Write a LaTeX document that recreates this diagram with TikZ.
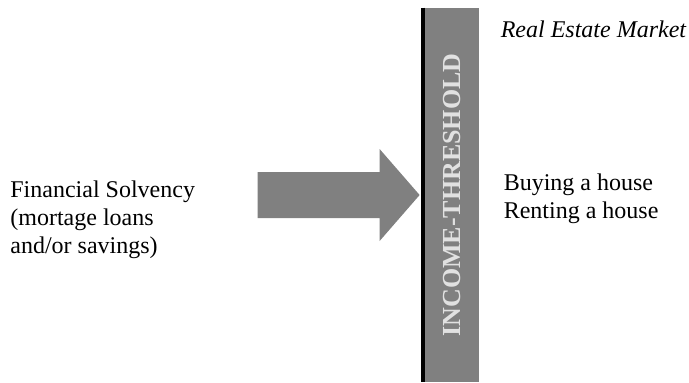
\documentclass[tikz,border=0pt,12pt]{standalone}
\usepackage{fontspec}
\setmainfont{Liberation Serif}
\usetikzlibrary{positioning}
\definecolor{bargray}{RGB}{128,128,128}
\definecolor{lblgray}{RGB}{225,225,225}
\tikzset{
  txt/.style={inner sep=0pt, align=left, anchor=north west,
              font=\fontsize{12}{14}\selectfont},
  barblk/.style={draw=none, fill=bargray, minimum width=27pt, minimum height=187pt,
                 inner sep=0pt},
  barlbl/.style={rotate=90, text=lblgray, font=\fontsize{13}{15}\selectfont\bfseries},
  pusharr/.style={fill=bargray, draw=none},
}

\begin{document}
\begin{tikzpicture}[x=0.5pt, y=-0.5pt]
  \useasboundingbox (0,0) rectangle (689,382);
  % threshold bar with its dark left edge
  \node[barblk] (bar) at (452,195) {};
  \draw[line width=2pt] ([xshift=-1pt]bar.north west) -- ([xshift=-1pt]bar.south west);
  \node[barlbl] (lim) at (bar.center) {INCOME-THRESHOLD};
  % left and right texts
  \node[txt] (solv) at (10,180) {Financial Solvency\\(mortage loans\\and/or savings)};
  \node[txt, below right=6.5pt and 10.5pt of bar.north east] (mkt) {\itshape Real Estate Market};
  \node[txt, below right=83pt and 12pt of bar.north east] (opts) {Buying a house\\Renting a house};
  % big block arrow into the bar
  \fill[pusharr] ([xshift=-2.5pt]bar.west) -- ++(-40,-46) -- ++(0,23) -- ++(-122,0)
    -- ++(0,46) -- ++(122,0) -- ++(0,23) -- cycle;
\end{tikzpicture}
\end{document}
